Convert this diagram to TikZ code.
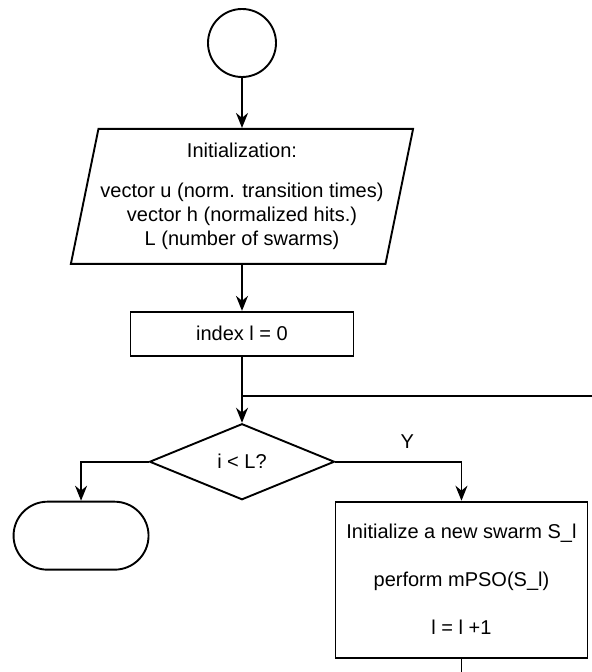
\documentclass[tikz,border=0pt]{standalone}
\usepackage{fontspec}
\setmainfont{Liberation Sans}
\usetikzlibrary{positioning, arrows.meta, shapes.geometric}

\begin{document}
\begin{tikzpicture}[
  node distance=25pt and 30pt,
  font=\fontsize{10}{12}\selectfont,
  start/.style={draw, circle, minimum size=34pt, line width=0.95pt},
  io/.style={draw, trapezium, trapezium left angle=76, trapezium right angle=104,
             trapezium stretches body, inner sep=1pt,
             minimum width=166.5pt, minimum height=67.5pt,
             align=center, line width=0.95pt},
  proc/.style={draw, rectangle, minimum width=111.5pt, minimum height=22pt,
               align=center, line width=0.95pt},
  bigproc/.style={draw, rectangle, minimum width=126pt, minimum height=78pt,
                  align=center, line width=0.95pt},
  decision/.style={draw, diamond, aspect=2.43, inner sep=1pt,
                   minimum width=92.5pt, minimum height=38pt, line width=0.95pt},
  stopnode/.style={draw, rectangle, rounded corners=17pt, minimum width=67.5pt,
                   minimum height=34pt, line width=0.95pt},
  arr/.style={-{Stealth[length=7.5pt, width=6pt]}, line width=0.95pt},
  line/.style={line width=0.95pt},
  lbl/.style={above, inner sep=6pt},
]

% Frame
\useasboundingbox (-121pt,21.5pt) rectangle (175pt,-314.5pt);

% Start
\node[start] (start) {};

% Input
\node[io, below=25pt of start] (init)
  {Initialization:\\[8pt]
   vector u (norm. transition times)\\
   vector h (normalized hits.)\\
   L (number of swarms)};

% Index
\node[proc, below=23pt of init] (idx) {index l = 0};
\coordinate[below=19.5pt of idx] (join);
\coordinate[right=174.75pt of join] (loopend);

% Decision
\node[decision, below=33pt of idx] (dec) {i < L?};
\coordinate[right=63pt of dec.east] (ybend);
\coordinate[left=33.75pt of dec.west] (nbend);

% Branches
\node[bigproc, below=19.5pt of ybend] (swarm)
  {Initialize a new swarm S\_l\\[12pt]
   perform mPSO(S\_l)\\[12pt]
   l = l +1};
\node[stopnode, below=19.5pt of nbend] (stop) {};
\coordinate[below=8.5pt of swarm] (exit);

% Arrows
\draw[arr] (start) -- (init);
\draw[arr] (init) -- (idx);
\draw[arr] (idx) -- (join) -- (dec);
\draw[line] (join) -- (loopend);
\draw[arr] (dec.east) -- node[lbl, pos=0.57] {Y} (ybend) -- (swarm);
\draw[arr] (dec.west) -- (nbend) -- (stop);
\draw[line] (swarm) -- (exit);

\end{tikzpicture}
\end{document}
